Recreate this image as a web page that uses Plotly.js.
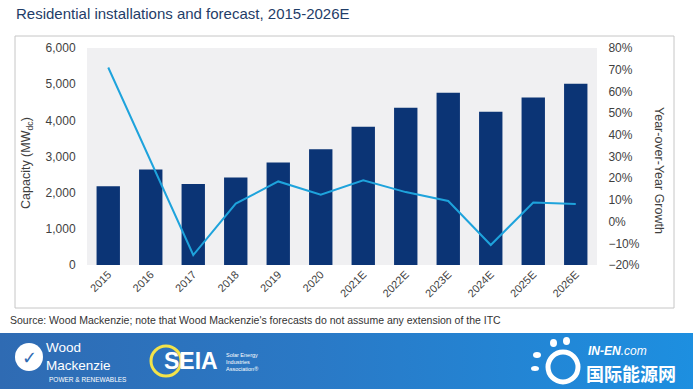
<!DOCTYPE html>
<html>
<head>
<meta charset="utf-8">
<script src="https://cdn.plot.ly/plotly-3.0.1.min.js"></script>
<style>
  html, body { margin: 0; padding: 0; background: #ffffff; }
  #wrap { position: relative; width: 693px; height: 389px; overflow: hidden; }
  #band { position: absolute; left: 0; top: 333px; width: 693px; height: 56px;
          background: linear-gradient(90deg, #2f6bb3 0%, #2a79c6 45%, #1d8fe0 100%); }
  #chart { position: absolute; left: 0; top: 0; width: 693px; height: 389px; }
</style>
</head>
<body>
<div id="wrap">
  <div id="band"></div>
  <div id="chart"></div>
</div>
<script>
// ---- data ----
const years = ['2015','2016','2017','2018','2019','2020','2021E','2022E','2023E','2024E','2025E','2026E'];
const capacityMW = [2174, 2642, 2238, 2422, 2835, 3202, 3826, 4349, 4762, 4239, 4633, 5010];
const yoyGrowthPct = [71, 28, -15.4, 8.3, 18.5, 12.4, 19, 13.6, 9.5, -10.8, 8.8, 8.1];
const titleText = 'Residential installations and forecast, 2015-2026E';
const sourceText = "Source: Wood Mackenzie; note that Wood Mackenzie's forecasts do not assume any extension of the ITC";

// ---- layout helpers (pixel -> paper) ----
const W = 693, H = 389, L = 87, R = 96, T = 48, B = 124;
const PW = W - L - R, PH = H - T - B;
const px = x => (x - L) / PW;
const py = y => (H - B - y) / PH;

const traces = [
  {
    type: 'bar', x: years, y: capacityMW, name: 'Capacity',
    marker: { color: '#0b3475' }, hoverinfo: 'x+y'
  },
  {
    type: 'scatter', mode: 'lines', x: years, y: yoyGrowthPct, yaxis: 'y2',
    name: 'YoY', line: { color: '#1ea3dc', width: 2 }
  }
];

const tickFont = { family: 'Liberation Sans, Arial, sans-serif', size: 12, color: '#3f3f3f' };

const layout = {
  width: W, height: H,
  margin: { l: L, r: R, t: T, b: B, pad: 0 },
  paper_bgcolor: 'rgba(0,0,0,0)',
  plot_bgcolor: '#f0f0f2',
  showlegend: false,
  bargap: 0.45,
  font: { family: 'Liberation Sans, Arial, sans-serif' },
  title: {
    text: titleText,
    x: 16 / W, xanchor: 'left', xref: 'container',
    y: 1 - 14 / H, yanchor: 'middle', yref: 'container',
    font: { family: 'Liberation Sans, Arial, sans-serif', size: 15, color: '#1f3d68' }
  },
  xaxis: {
    type: 'category', tickangle: -45,
    tickfont: { family: 'Liberation Sans, Arial, sans-serif', size: 11, color: '#3f3f3f' },
    showgrid: false, zeroline: false, showline: false,
    ticks: ''
  },
  yaxis: {
    range: [0, 6000], dtick: 1000, tickformat: ',d',
    tickfont: tickFont, showgrid: false, zeroline: false, showline: false,
    ticks: 'outside', ticklen: 8, tickcolor: 'rgba(0,0,0,0)'
  },
  yaxis2: {
    overlaying: 'y', side: 'right', range: [-20, 80], dtick: 10, ticksuffix: '%',
    tickfont: tickFont, showgrid: false, zeroline: false, showline: false,
    ticks: 'outside', ticklen: 8, tickcolor: 'rgba(0,0,0,0)'
  },
  shapes: [
    // outer chart frame
    { type: 'rect', xref: 'paper', yref: 'paper', x0: px(15), x1: px(674), y0: py(308), y1: py(36),
      line: { color: '#c6c6c6', width: 1 }, fillcolor: 'rgba(0,0,0,0)', layer: 'below' },
    // Wood Mackenzie emblem
    { type: 'circle', xref: 'paper', yref: 'paper', x0: px(15), x1: px(43), y0: py(371), y1: py(343),
      line: { color: '#ffffff', width: 0 }, fillcolor: '#ffffff' },
    // SEIA yellow ring
    { type: 'circle', xref: 'paper', yref: 'paper', x0: px(151), x1: px(181), y0: py(376), y1: py(346),
      line: { color: '#f3e34a', width: 3 }, fillcolor: 'rgba(0,0,0,0)' },
    // IN-EN swirl
    { type: 'circle', xref: 'paper', yref: 'paper', x0: px(548), x1: px(578), y0: py(382), y1: py(352),
      line: { color: '#ffffff', width: 5 }, fillcolor: 'rgba(0,0,0,0)' },
    { type: 'circle', xref: 'paper', yref: 'paper', x0: px(533), x1: px(541), y0: py(358), y1: py(352),
      line: { width: 0 }, fillcolor: '#ffffff' },
    { type: 'circle', xref: 'paper', yref: 'paper', x0: px(531), x1: px(539), y0: py(371), y1: py(366),
      line: { width: 0 }, fillcolor: '#ffffff' },
    { type: 'circle', xref: 'paper', yref: 'paper', x0: px(550), x1: px(557), y0: py(347), y1: py(339),
      line: { width: 0 }, fillcolor: '#ffffff' },
    { type: 'circle', xref: 'paper', yref: 'paper', x0: px(563), x1: px(570), y0: py(345), y1: py(337),
      line: { width: 0 }, fillcolor: '#ffffff' }
  ],
  annotations: [
    { text: 'Capacity (MW<sub>dc</sub>)', xref: 'paper', yref: 'paper', x: px(27), y: py(163),
      xanchor: 'center', yanchor: 'middle', textangle: -90, showarrow: false,
      font: { family: 'Liberation Sans, Arial, sans-serif', size: 12.5, color: '#3f3f3f' } },
    { text: 'Year-over-Year Growth', xref: 'paper', yref: 'paper', x: px(659), y: py(170),
      xanchor: 'center', yanchor: 'middle', textangle: 90, showarrow: false,
      font: { family: 'Liberation Sans, Arial, sans-serif', size: 12.5, color: '#3f3f3f' } },
    { text: sourceText, xref: 'paper', yref: 'paper', x: px(8), y: py(320),
      xanchor: 'left', yanchor: 'middle', showarrow: false,
      font: { family: 'Liberation Sans, Arial, sans-serif', size: 10.5, color: '#333333' } },
    // footer logos as text
    { text: '✓', xref: 'paper', yref: 'paper', x: px(29), y: py(357),
      xanchor: 'center', yanchor: 'middle', showarrow: false,
      font: { family: 'DejaVu Sans, sans-serif', size: 18, color: '#2f6bb3' } },
    { text: 'Wood<br>Mackenzie', xref: 'paper', yref: 'paper', x: px(44), y: py(356),
      xanchor: 'left', yanchor: 'middle', align: 'left', showarrow: false,
      font: { family: 'Liberation Sans, Arial, sans-serif', size: 13.5, color: '#ffffff' } },
    { text: 'POWER &amp; RENEWABLES', xref: 'paper', yref: 'paper', x: px(47), y: py(379),
      xanchor: 'left', yanchor: 'middle', showarrow: false,
      font: { family: 'Liberation Sans Narrow, Liberation Sans, sans-serif', size: 6.5, color: '#ffffff' } },
    { text: '<b>SEIA</b>', xref: 'paper', yref: 'paper', x: px(162), y: py(361),
      xanchor: 'left', yanchor: 'middle', showarrow: false,
      font: { family: 'Liberation Sans, Arial, sans-serif', size: 23, color: '#ffffff' } },
    { text: 'Solar Energy<br>Industries<br>Association®', xref: 'paper', yref: 'paper', x: px(224), y: py(362),
      xanchor: 'left', yanchor: 'middle', align: 'left', showarrow: false,
      font: { family: 'Liberation Sans, Arial, sans-serif', size: 5.5, color: '#ffffff' } },
    { text: '<b><i>IN-EN</i></b><i>.com</i>', xref: 'paper', yref: 'paper', x: px(586), y: py(351),
      xanchor: 'left', yanchor: 'middle', showarrow: false,
      font: { family: 'Liberation Sans, Arial, sans-serif', size: 12, color: '#ffffff' } },
    { text: '<b>国际能源网</b>', xref: 'paper', yref: 'paper', x: px(584), y: py(373),
      xanchor: 'left', yanchor: 'middle', showarrow: false,
      font: { family: 'Noto Sans CJK SC, sans-serif', size: 18, color: '#ffffff' } }
  ]
};

Plotly.newPlot('chart', traces, layout, { displayModeBar: false, staticPlot: true });
</script>
</body>
</html>
